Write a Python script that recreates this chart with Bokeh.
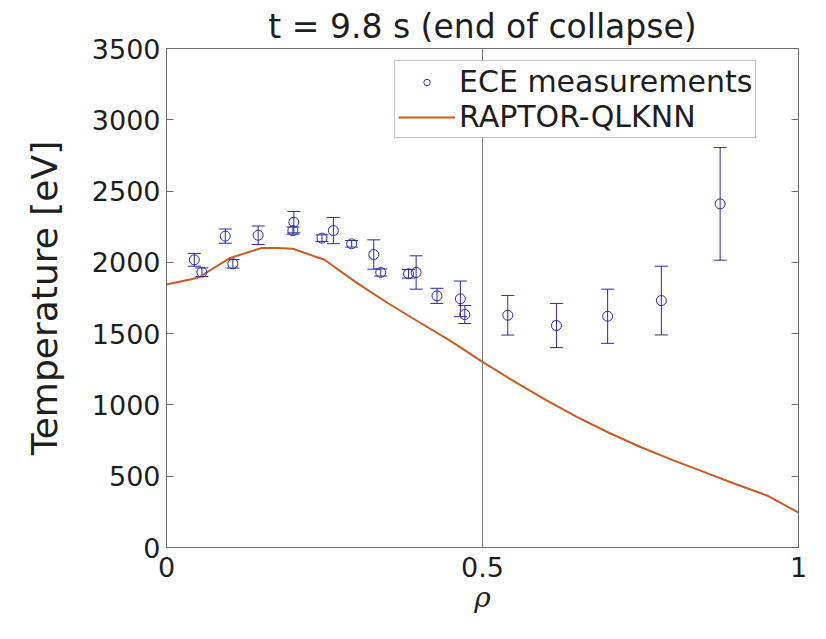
from bokeh.plotting import figure
from bokeh.models import (ColumnDataSource, Whisker, TeeHead, Span, Legend, LegendItem,
                          LinearAxis, FixedTicker, CustomJSTickFormatter)
from bokeh.embed import file_html
from bokeh.resources import INLINE

# ---- data ----
rho_ece = [0.044, 0.056, 0.093, 0.105, 0.145, 0.2015, 0.200, 0.246, 0.264, 0.293, 0.328,
           0.339, 0.383, 0.395, 0.428, 0.465, 0.472, 0.540, 0.617, 0.698, 0.783, 0.876]
te_ece = [2018, 1931, 2184, 1990, 2190, 2282, 2223, 2170, 2223, 2130, 2055,
          1929, 1920, 1929, 1765, 1744, 1634, 1629, 1557, 1622, 1732, 2410]
te_err = [45, 30, 50, 30, 65, 75, 25, 23, 92, 23, 103,
          25, 30, 117, 53, 125, 63, 139, 155, 190, 241, 395]

rho_model = [0.0, 0.05, 0.10, 0.15, 0.175, 0.20, 0.25, 0.30, 0.35, 0.40, 0.45, 0.50,
             0.55, 0.60, 0.65, 0.70, 0.75, 0.80, 0.85, 0.90, 0.95, 1.0]
te_model = [1845, 1892, 2030, 2100, 2100, 2095, 2018, 1860, 1715, 1580, 1448, 1302,
            1165, 1035, 915, 805, 705, 615, 530, 445, 365, 245]

x_ticks = [0, 0.5, 1]
x_tick_labels = ["0", "0.5", "1"]
y_ticks = [0, 500, 1000, 1500, 2000, 2500, 3000, 3500]
y_tick_labels = ["0", "500", "1000", "1500", "2000", "2500", "3000", "3500"]
rho_marker = 0.5

title_text = "t = 9.8 s (end of collapse)"
xlabel = "\u03c1"
ylabel = "Temperature [eV]"
legend_labels = ["ECE measurements", "RAPTOR-QLKNN"]

# ---- styling ----
BLUE = "#2b2ba6"
ORANGE = "#cf5a1f"
AXIS = "#6e6e6e"
TEXT = "#1e1e1e"
FONT = "DejaVu Sans"

p = figure(width=810, height=623, x_range=(0, 1), y_range=(0, 3500),
           output_backend="svg", toolbar_location=None,
           min_border_left=166, min_border_right=12, min_border_top=48, min_border_bottom=76,
           x_axis_location=None, y_axis_location=None)
p.xgrid.visible = False
p.ygrid.visible = False
p.outline_line_color = AXIS
p.background_fill_color = "white"
p.border_fill_color = "white"

p.title.text = title_text
p.title.align = "center"
p.title.text_font = FONT
p.title.text_font_size = "33px"
p.title.text_font_style = "normal"
p.title.text_color = TEXT
p.title.standoff = 5

def style_axis(ax, ticks, labels, show_labels):
    ax.ticker = FixedTicker(ticks=ticks)
    ax.major_tick_in = 7
    ax.major_tick_out = 0
    ax.minor_tick_line_color = None
    ax.axis_line_color = AXIS
    ax.major_tick_line_color = AXIS
    if show_labels:
        ax.major_label_overrides = dict(zip(ticks, labels))
        ax.major_label_text_font = FONT
        ax.major_label_text_font_size = "27px"
        ax.major_label_text_color = TEXT
        ax.major_label_standoff = 6
    else:
        ax.formatter = CustomJSTickFormatter(code="return ''")

xb = LinearAxis()
style_axis(xb, x_ticks, x_tick_labels, True)
xb.major_label_standoff = 9
xb.axis_label = xlabel
xb.axis_label_text_font = "DejaVu Serif"
xb.axis_label_text_font_style = "italic"
xb.axis_label_text_font_size = "28px"
xb.axis_label_text_color = TEXT
xb.axis_label_standoff = 1
p.add_layout(xb, "below")

yl = LinearAxis()
style_axis(yl, y_ticks, y_tick_labels, True)
yl.axis_label = ylabel
yl.axis_label_text_font = FONT
yl.axis_label_text_font_style = "normal"
yl.axis_label_text_font_size = "36px"
yl.axis_label_text_color = TEXT
yl.axis_label_standoff = 24
p.add_layout(yl, "left")

yr = LinearAxis()
style_axis(yr, y_ticks, y_tick_labels, False)
p.add_layout(yr, "right")

xt = LinearAxis()
style_axis(xt, x_ticks, x_tick_labels, False)
p.add_layout(xt, "above")

p.add_layout(Span(location=rho_marker, dimension="height", line_color="#7a7a7a", line_width=1))

src = ColumnDataSource(dict(
    rho=rho_ece, te=te_ece,
    lo=[t - e for t, e in zip(te_ece, te_err)],
    hi=[t + e for t, e in zip(te_ece, te_err)],
))

model_line = p.line(rho_model, te_model, line_color=ORANGE, line_width=2)

whisk = Whisker(source=src, base="rho", lower="lo", upper="hi", dimension="height",
                line_color=BLUE, line_width=1,
                upper_head=TeeHead(size=13, line_color=BLUE, line_width=1),
                lower_head=TeeHead(size=13, line_color=BLUE, line_width=1))
p.add_layout(whisk)

circ = p.scatter("rho", "te", source=src, marker="circle", size=10,
                 fill_color=None, line_color=BLUE, line_width=1)

legend = Legend(items=[LegendItem(label=legend_labels[0], renderers=[circ]),
                       LegendItem(label=legend_labels[1], renderers=[model_line])],
                location=(228, 409), margin=0, padding=3, spacing=0,
                glyph_width=57, glyph_height=16, label_height=35, label_standoff=4,
                label_text_font=FONT, label_text_font_size="30px", label_text_color=TEXT,
                border_line_color="#8a8a8a", border_line_width=1,
                background_fill_color="white", background_fill_alpha=1)
p.add_layout(legend, "center")

open("out.html", "w").write(file_html(p, INLINE))
